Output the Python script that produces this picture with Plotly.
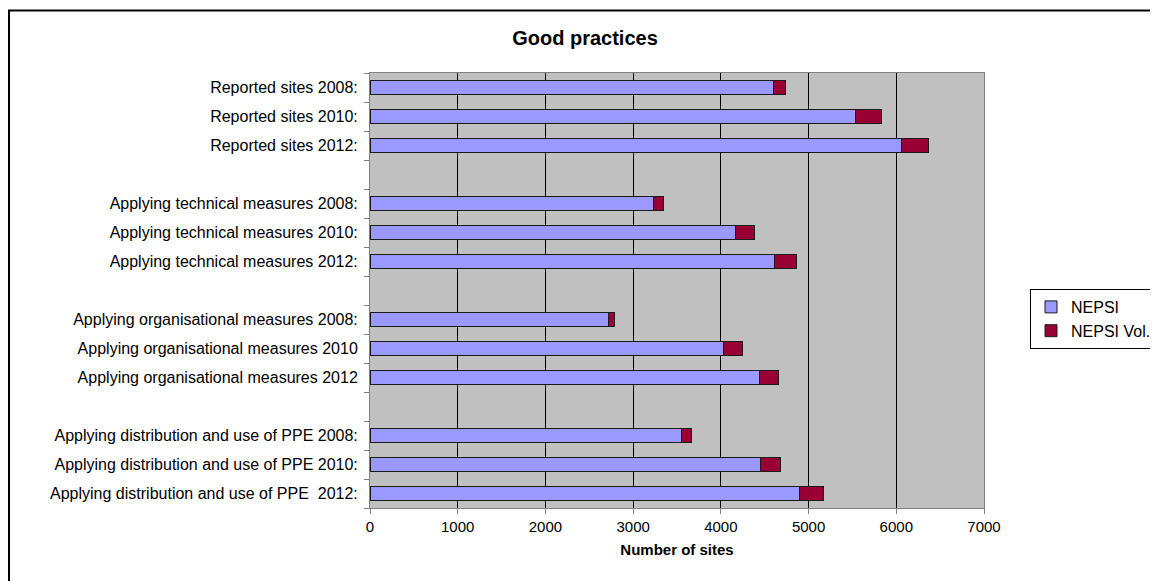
import plotly.graph_objects as go

categories = [
    "Reported sites 2008:",
    "Reported sites 2010:",
    "Reported sites 2012:",
    "",
    "Applying technical measures 2008:",
    "Applying technical measures 2010:",
    "Applying technical measures 2012:",
    "",
    "Applying organisational measures 2008:",
    "Applying organisational measures 2010",
    "Applying organisational measures 2012",
    "",
    "Applying distribution and use of PPE 2008:",
    "Applying distribution and use of PPE 2010:",
    "Applying distribution and use of PPE\u00a0 2012:",
]
nepsi = [4605, 5530, 6055, None, 3235, 4170, 4615, None, 2720, 4025, 4440, None, 3555, 4455, 4900]
nepsi_vol = [135, 300, 310, None, 110, 215, 245, None, 70, 220, 215, None, 110, 230, 270]
x_ticks = [0, 1000, 2000, 3000, 4000, 5000, 6000, 7000]

pos = list(range(len(categories)))
FONT = "Liberation Sans, Arial, sans-serif"

# the page body adds an 8px offset; figure coordinates below are page coords minus 8
OFF = 8
W, H = 1158, 581
L, T = 370 - OFF, 73 - OFF
R, B = W - (984 - OFF), H - (508 - OFF)
pw, ph = W - L - R, H - T - B

def px_x(p):
    return (p - OFF - L) / pw

def px_y(p):
    return (H - B - (p - OFF)) / ph

fig = go.Figure()
fig.add_trace(go.Bar(
    y=pos, x=nepsi, orientation="h", name="NEPSI", width=0.47,
    marker=dict(color="#9999FF", line=dict(color="#1a1a1a", width=1)),
    legendgroup="a",
))
fig.add_trace(go.Bar(
    y=pos, x=nepsi_vol, orientation="h", name="NEPSI Vol.", width=0.47,
    marker=dict(color="#990033", line=dict(color="#1a1a1a", width=1)),
    legendgroup="b",
))

fig.update_layout(
    width=W, height=H,
    barmode="stack",
    paper_bgcolor="white",
    plot_bgcolor="#C0C0C0",
    margin=dict(l=L, r=R, t=T, b=B, autoexpand=False),
    font=dict(family=FONT, size=16, color="#000000"),
    title=dict(text="<b>Good practices</b>", x=(585 - OFF) / W, xref="container", xanchor="center",
               y=1 - (38 - OFF) / H, yref="container", yanchor="middle",
               font=dict(family=FONT, size=20, color="#000000")),
    legend=dict(x=px_x(1030), y=px_y(289), xanchor="left", yanchor="top",
                bordercolor="#000000", borderwidth=1, bgcolor="white",
                traceorder="normal", tracegroupgap=20, itemwidth=30,
                font=dict(family=FONT, size=16)),
    xaxis=dict(
        range=[0, 7000], tickvals=x_ticks, ticktext=[str(v) for v in x_ticks],
        showgrid=True, gridcolor="#000000", gridwidth=1,
        showline=True, linecolor="#808080", linewidth=1, mirror=True,
        ticks="outside", ticklen=5, tickcolor="#808080",
        zeroline=False,
        tickfont=dict(family=FONT, size=15),
        title=dict(text="<b>Number of sites</b>", standoff=10,
                   font=dict(family=FONT, size=15)),
    ),
    yaxis=dict(
        range=[len(categories) - 0.5, -0.5],
        tickmode="array", tickvals=pos, ticktext=categories,
        ticks="", showgrid=False, zeroline=False,
        showline=True, linecolor="#808080", linewidth=1, mirror=True,
        ticklabelstandoff=8,
        tickfont=dict(family=FONT, size=16),
        minor=dict(tickmode="array", tickvals=[p - 0.5 for p in pos] + [len(pos) - 0.5],
                   ticks="outside", ticklen=5, tickcolor="#808080", showgrid=False),
    ),
    shapes=[dict(type="rect", xref="paper", yref="paper",
                 x0=px_x(9), x1=px_x(1250), y0=px_y(10.5), y1=px_y(700),
                 line=dict(color="#000000", width=2), fillcolor="rgba(0,0,0,0)", layer="above")],
)

fig.write_html("out.html")
